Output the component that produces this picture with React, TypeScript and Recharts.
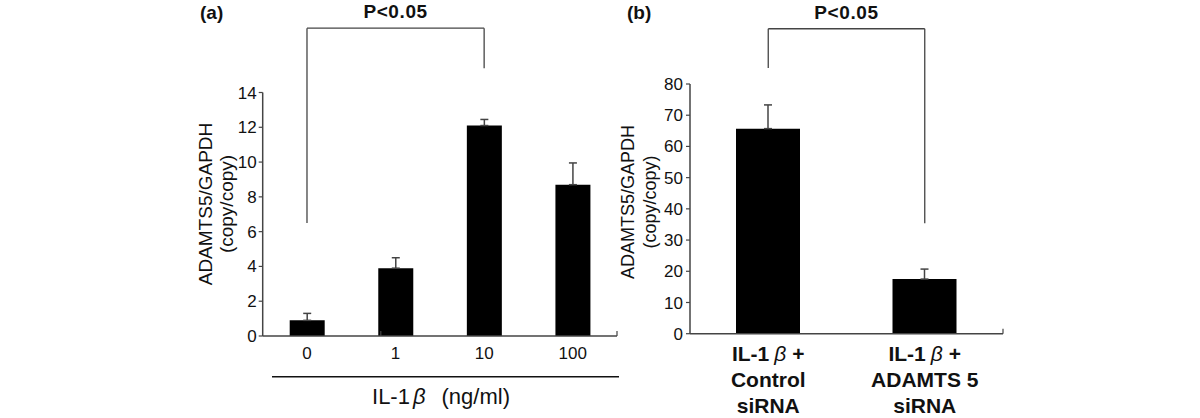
import React from "react";
import { BarChart, Bar, XAxis, YAxis, ErrorBar, ReferenceLine, Customized } from "recharts";

const FONT = '"Liberation Sans", Arial, sans-serif';
const INK = "#111";
const LINE = "#444";

// panel (a): dose response
const doseLabels = ["0", "1", "10", "100"];
const doseValues = [0.9, 3.9, 12.1, 8.7];
const doseErrors = [0.4, 0.6, 0.35, 1.25];
const doseTicks = [0, 2, 4, 6, 8, 10, 12, 14];
const doseEdgeTicks = [1, 3, 4];
// bracket: left leg bottom, top, right leg bottom
const bracketA = [6.5, 17.7, 15.4];

// panel (b): siRNA
const sirnaLabels = ["IL-1β +\nControl\nsiRNA", "IL-1β +\nADAMTS 5\nsiRNA"];
const sirnaValues = [65.7, 17.5];
const sirnaErrors = [7.6, 3.2];
const sirnaTicks = [0, 10, 20, 30, 40, 50, 60, 70, 80];
const sirnaEdgeTicks = [1, 2];
const bracketB = [85.1, 97.7, 35.4];

const doseData = doseLabels.map((name, i) => ({ name, value: doseValues[i], err: [0, doseErrors[i]] }));
const sirnaData = sirnaLabels.map((name, i) => ({ name, value: sirnaValues[i], err: [0, sirnaErrors[i]] }));

const betaLine = (line: string) => {
  const parts = line.split("β");
  if (parts.length < 2) return line;
  return (
    <>
      {parts[0]}
      <tspan fontStyle="italic" fontWeight="normal" dx={5}>β</tspan>
      <tspan dx={6}>{parts[1].trim()}</tspan>
    </>
  );
};

const SirnaTick = (props: any) => {
  const { x, y, payload } = props;
  const lines = String(payload.value).split("\n");
  return (
    <text x={x} y={y} textAnchor="middle" fontFamily={FONT} fontSize={21} fontWeight="bold" fill={INK}>
      {lines.map((l, i) => (
        <tspan key={i} x={x} y={y + 27 + i * 26}>{betaLine(l)}</tspan>
      ))}
    </text>
  );
};

const YLabel = ({ x, y, size, gap }: { x: number; y: number; size: number; gap: number }) => (
  <g fontFamily={FONT} fontSize={size} fill={INK} textAnchor="middle">
    <text x={x} y={y} dominantBaseline="central" transform={`rotate(-90, ${x}, ${y})`}>ADAMTS5/GAPDH</text>
    <text x={x + gap} y={y} dominantBaseline="central" transform={`rotate(-90, ${x + gap}, ${y})`}>(copy/copy)</text>
  </g>
);

const ExtrasA = () => (
  <g>
    <text x={200} y={19} fontFamily={FONT} fontSize={19} fontWeight="bold" fill={INK}>(a)</text>
    <YLabel x={205} y={204} size={19} gap={21} />
    <line x1={272} x2={619} y1={376.7} y2={376.7} stroke={INK} strokeWidth={1.5} />
    <text x={441} y={404} fontFamily={FONT} fontSize={22} fill={INK} textAnchor="middle">
      IL-1<tspan fontStyle="italic" dx={3}>β</tspan><tspan dx={16}>(ng/ml)</tspan>
    </text>
  </g>
);

const ExtrasB = () => (
  <g>
    <text x={27} y={19} fontFamily={FONT} fontSize={19} fontWeight="bold" fill={INK}>(b)</text>
    <YLabel x={28} y={202} size={18} gap={22} />
  </g>
);

const pLabel = { value: "P<0.05", position: "top" as const, offset: 10, fontFamily: FONT, fontSize: 19, fontWeight: "bold", fill: INK, letterSpacing: 0.6 };

const tickStyle = { fontFamily: FONT, fontSize: 17, fill: INK };

export default function App() {
  return (
    <div style={{ position: "absolute", left: 0, top: 0, width: 1200, height: 418, background: "#fff" }}>
      <div style={{ position: "absolute", left: 0, top: 0 }}>
        <BarChart width={640} height={418} data={doseData} margin={{ top: 92.5, right: 23, bottom: 81, left: 222.7 }}>
          <XAxis xAxisId="edge" type="number" domain={[0, 4]} ticks={doseEdgeTicks} height={1} mirror axisLine={false}
            tickLine={{ stroke: LINE, strokeWidth: 1.2 }} tickSize={5} tickFormatter={() => ""} />
          <XAxis xAxisId="cat" dataKey="name" height={1} axisLine={{ stroke: LINE, strokeWidth: 1.5 }} tickLine={false}
            tickSize={0} tickMargin={11} tick={tickStyle} interval={0} />
          <YAxis width={40} domain={[0, 14]} ticks={doseTicks} interval={0} axisLine={{ stroke: LINE, strokeWidth: 1.5 }}
            tickLine={{ stroke: LINE, strokeWidth: 1.2 }} tickSize={4} tickMargin={2} tick={tickStyle} />
          <Bar xAxisId="cat" dataKey="value" fill="#000" barSize={35} isAnimationActive={false}>
            <ErrorBar dataKey="err" width={4} stroke={LINE} strokeWidth={1.5} direction="y" />
          </Bar>
          <ReferenceLine xAxisId="cat" ifOverflow="visible" stroke={LINE} strokeWidth={1.3}
            segment={[{ x: "0", y: bracketA[0] }, { x: "0", y: bracketA[1] }]} />
          <ReferenceLine xAxisId="cat" ifOverflow="visible" stroke={LINE} strokeWidth={1.3} label={pLabel}
            segment={[{ x: "0", y: bracketA[1] }, { x: "10", y: bracketA[1] }]} />
          <ReferenceLine xAxisId="cat" ifOverflow="visible" stroke={LINE} strokeWidth={1.3}
            segment={[{ x: "10", y: bracketA[1] }, { x: "10", y: bracketA[2] }]} />
          <Customized component={<ExtrasA />} />
        </BarChart>
      </div>
      <div style={{ position: "absolute", left: 600, top: 0 }}>
        <BarChart width={600} height={418} data={sirnaData} margin={{ top: 84, right: 197, bottom: 83.3, left: 50 }}>
          <XAxis xAxisId="edge" type="number" domain={[0, 2]} ticks={sirnaEdgeTicks} height={1} mirror axisLine={false}
            tickLine={{ stroke: LINE, strokeWidth: 1.2 }} tickSize={5} tickFormatter={() => ""} />
          <XAxis xAxisId="cat" dataKey="name" height={1} axisLine={{ stroke: LINE, strokeWidth: 1.5 }} tickLine={false}
            tickSize={0} tickMargin={0} tick={<SirnaTick />} interval={0} />
          <YAxis width={40} domain={[0, 80]} ticks={sirnaTicks} interval={0} axisLine={{ stroke: LINE, strokeWidth: 1.5 }}
            tickLine={{ stroke: LINE, strokeWidth: 1.2 }} tickSize={4} tickMargin={3} tick={tickStyle} />
          <Bar xAxisId="cat" dataKey="value" fill="#000" barSize={64} isAnimationActive={false}>
            <ErrorBar dataKey="err" width={4} stroke={LINE} strokeWidth={1.5} direction="y" />
          </Bar>
          <ReferenceLine xAxisId="cat" ifOverflow="visible" stroke={LINE} strokeWidth={1.3}
            segment={[{ x: sirnaLabels[0], y: bracketB[0] }, { x: sirnaLabels[0], y: bracketB[1] }]} />
          <ReferenceLine xAxisId="cat" ifOverflow="visible" stroke={LINE} strokeWidth={1.3} label={pLabel}
            segment={[{ x: sirnaLabels[0], y: bracketB[1] }, { x: sirnaLabels[1], y: bracketB[1] }]} />
          <ReferenceLine xAxisId="cat" ifOverflow="visible" stroke={LINE} strokeWidth={1.3}
            segment={[{ x: sirnaLabels[1], y: bracketB[1] }, { x: sirnaLabels[1], y: bracketB[2] }]} />
          <Customized component={<ExtrasB />} />
        </BarChart>
      </div>
    </div>
  );
}
